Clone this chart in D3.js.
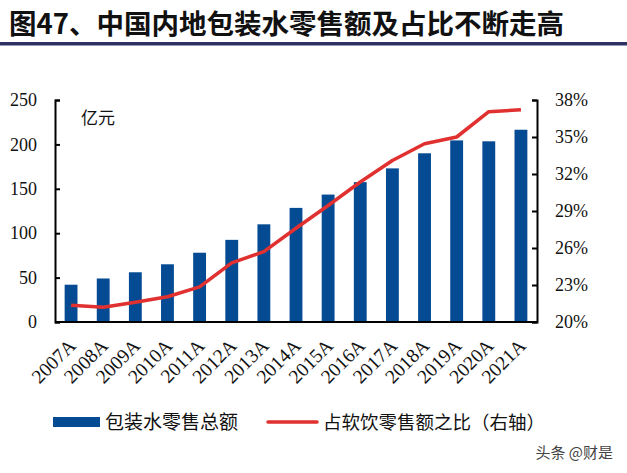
<!DOCTYPE html>
<html>
<head>
<meta charset="utf-8">
<script src="https://cdn.jsdelivr.net/npm/d3@7"></script>
<style>
  body { margin: 0; background: #fff; }
  svg { display: block; }
</style>
</head>
<body>
<svg id="chart"></svg>
<script>
// data
const years = ["2007A","2008A","2009A","2010A","2011A","2012A","2013A","2014A",
               "2015A","2016A","2017A","2018A","2019A","2020A","2021A"];
const retailSales = [42, 49, 56, 65, 78, 92.5, 110, 128.5, 143.5, 157.5, 173, 190, 204.5, 203.5, 216.5];
const shareOfSoftDrinks = [21.35, 21.2, 21.6, 22.05, 22.85, 24.8, 25.7, 27.6, 29.45, 31.35, 33.1, 34.45, 35.0, 37.05, 37.2];
const leftTicks = [0, 50, 100, 150, 200, 250];
const rightTicks = [20, 23, 26, 29, 32, 35, 38];
const title = "图47、中国内地包装水零售额及占比不断走高";
const unitLabel = "亿元";
const legendBar = "包装水零售总额";
const legendLine = "占软饮零售额之比（右轴）";
const watermark = "头条 @财是";

const width = 627, height = 473;
const serif = "'Liberation Serif', 'Times New Roman', serif";
const cjk = "'Noto Sans CJK SC', sans-serif";
const blue = "#054b93", red = "#e0302f";

const svg = d3.select("#chart").attr("width", width).attr("height", height);

// title + rule under it
svg.append("text")
  .attr("x", 9).attr("y", 34)
  .attr("font-family", cjk).attr("font-weight", "bold")
  .attr("font-size", 27.5).attr("fill", "#111")
  .text(title);
svg.append("rect")
  .attr("x", 0).attr("y", 42).attr("width", width).attr("height", 3.5)
  .attr("fill", "#2f3163");

const plotL = 55, plotR = 537, plotT = 100, plotB = 322;

const x = d3.scaleBand().domain(years).range([plotL, plotR]).paddingInner(0.6).paddingOuter(0.3);
const yL = d3.scaleLinear().domain([0, 250]).range([plotB, plotT]);
const yR = d3.scaleLinear().domain([20, 38]).range([plotB, plotT]);

// bars
svg.append("g").selectAll("rect")
  .data(retailSales).enter()
  .append("rect")
  .attr("x", (d, i) => x(years[i]))
  .attr("y", d => yL(d))
  .attr("width", x.bandwidth())
  .attr("height", d => plotB - yL(d))
  .attr("fill", blue);

// line on right axis
const line = d3.line()
  .x((d, i) => x(years[i]) + x.bandwidth() / 2)
  .y(d => yR(d));
svg.append("path")
  .datum(shareOfSoftDrinks)
  .attr("d", line)
  .attr("fill", "none")
  .attr("stroke", red)
  .attr("stroke-width", 3.5)
  .attr("stroke-linejoin", "round");

// axes
function styleAxis(g) {
  g.select(".domain").attr("stroke", "#000").attr("stroke-width", 2);
  g.selectAll(".tick line").attr("stroke", "#000").attr("stroke-width", 2);
  g.selectAll("text").attr("font-family", serif).attr("font-size", 18).attr("fill", "#111");
}

svg.append("g")
  .attr("transform", `translate(${plotL},0)`)
  .call(d3.axisLeft(yL).tickValues(leftTicks).tickSizeInner(-5).tickSizeOuter(-5).tickPadding(18))
  .call(styleAxis);

svg.append("g")
  .attr("transform", `translate(${plotR},0)`)
  .call(d3.axisRight(yR).tickValues(rightTicks).tickFormat(d => d + "%")
    .tickSizeInner(-5).tickSizeOuter(-5).tickPadding(18))
  .call(styleAxis);

const xAxis = svg.append("g")
  .attr("transform", `translate(0,${plotB})`)
  .call(d3.axisBottom(x).tickSize(0).tickPadding(0))
  .call(styleAxis);
xAxis.select(".domain").attr("d", `M${plotL},0H${plotR}`);
xAxis.selectAll("text")
  .attr("text-anchor", "end")
  .attr("font-size", 19.5)
  .attr("dy", 0)
  .attr("transform", "translate(6,25) rotate(-45)");

// unit label
svg.append("text")
  .attr("x", 81).attr("y", 124)
  .attr("font-family", cjk).attr("font-size", 17).attr("fill", "#111")
  .text(unitLabel);

// legend
const lg = svg.append("g");
lg.append("rect").attr("x", 53).attr("y", 417).attr("width", 47).attr("height", 10).attr("fill", blue);
lg.append("text").attr("x", 105).attr("y", 429)
  .attr("font-family", cjk).attr("font-size", 19).attr("fill", "#111").text(legendBar);
lg.append("line").attr("x1", 268).attr("x2", 317).attr("y1", 422).attr("y2", 422)
  .attr("stroke", red).attr("stroke-width", 3.5).attr("stroke-linecap", "round");
lg.append("text").attr("x", 323).attr("y", 429)
  .attr("font-family", cjk).attr("font-size", 18.5).attr("fill", "#111").text(legendLine);

// watermark
svg.append("text")
  .attr("x", 613).attr("y", 458).attr("text-anchor", "end")
  .attr("font-family", cjk).attr("font-size", 15).attr("fill", "#444")
  .text(watermark);
</script>
</body>
</html>
